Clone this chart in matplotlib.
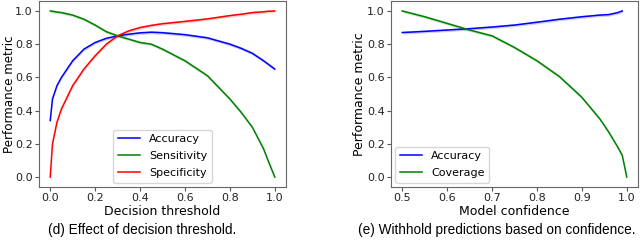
import numpy as np
import matplotlib
matplotlib.use("Agg")
import matplotlib.pyplot as plt

# (d) decision threshold
thr = [0.0, 0.01, 0.03, 0.05, 0.1, 0.15, 0.2, 0.25, 0.3, 0.35, 0.4, 0.45, 0.5,
       0.6, 0.7, 0.8, 0.85, 0.9, 0.95, 0.97, 1.0]
acc_d = [0.34, 0.47, 0.55, 0.60, 0.70, 0.77, 0.81, 0.835, 0.85, 0.86, 0.868, 0.872, 0.869,
         0.857, 0.838, 0.80, 0.775, 0.745, 0.70, 0.68, 0.65]
sens_d = [1.0, 0.998, 0.993, 0.99, 0.975, 0.95, 0.915, 0.875, 0.85, 0.83, 0.81, 0.80, 0.77,
          0.70, 0.61, 0.47, 0.39, 0.30, 0.17, 0.10, 0.0]
spec_d = [0.0, 0.20, 0.33, 0.41, 0.55, 0.65, 0.73, 0.80, 0.85, 0.88, 0.90, 0.913, 0.923,
          0.937, 0.952, 0.972, 0.98, 0.99, 0.995, 0.998, 1.0]

# (e) withhold on confidence
conf = [0.5, 0.55, 0.6, 0.65, 0.7, 0.75, 0.8, 0.85, 0.9, 0.94, 0.96, 0.98, 0.99, 1.0]
acc_e = [0.87, 0.877, 0.885, 0.893, 0.903, 0.915, 0.932, 0.95, 0.965, 0.975, 0.978, 0.99, 1.0, np.nan]
cov_e = [1.0, 0.965, 0.925, 0.885, 0.85, 0.78, 0.70, 0.605, 0.48, 0.35, 0.27, 0.18, 0.13, 0.0]

fig = plt.figure(figsize=(6.4, 2.45), dpi=100)
ax1 = fig.add_axes([39 / 640, 58 / 245, 247 / 640, 186 / 245])
ax2 = fig.add_axes([391 / 640, 58 / 245, 247 / 640, 186 / 245])


def band_line(ax, x, y, color, label, w=0.009):
    x = np.array(x)
    y = np.array(y, dtype=float)
    ax.fill_between(x, y - w, y + w, color=color, alpha=0.2, lw=0)
    ax.plot(x, y, color=color, lw=1.1, label=label)


band_line(ax1, thr, acc_d, "blue", "Accuracy")
band_line(ax1, thr, sens_d, "green", "Sensitivity")
band_line(ax1, thr, spec_d, "red", "Specificity")
ax1.set_xlabel("Decision threshold", fontsize=9, labelpad=1)
ax1.set_ylabel("Performance metric", fontsize=8.6)
ax1.yaxis.set_label_coords(-0.095, 0.5)
ax1.legend(loc="lower center", fontsize=8, borderaxespad=0.4, labelspacing=0.62)

band_line(ax2, conf, acc_e, "blue", "Accuracy")
band_line(ax2, conf, cov_e, "green", "Coverage")
ax2.set_xlabel("Model confidence", fontsize=9, labelpad=1)
ax2.set_ylabel("Performance metric", fontsize=9, labelpad=1)
ax2.legend(loc="lower left", fontsize=8, borderaxespad=0.4, labelspacing=0.62)
ax2.set_xticks([0.5, 0.6, 0.7, 0.8, 0.9, 1.0])

for ax in (ax1, ax2):
    ax.set_yticks([0.0, 0.2, 0.4, 0.6, 0.8, 1.0])
    ax.tick_params(labelsize=8, length=3, pad=1.5, color="#555555", labelcolor="#222222")
    for s in ax.spines.values():
        s.set_color("#666666")

fig.text(142 / 640, 1 - 230 / 245, "(d) Effect of decision threshold.", ha="center", va="center",
         fontsize=9.8, family="Liberation Sans")
fig.text(497 / 640, 1 - 230 / 245, "(e) Withhold predictions based on confidence.", ha="center",
         va="center", fontsize=9.8, family="Liberation Sans")

fig.savefig("out.png", dpi=100)
